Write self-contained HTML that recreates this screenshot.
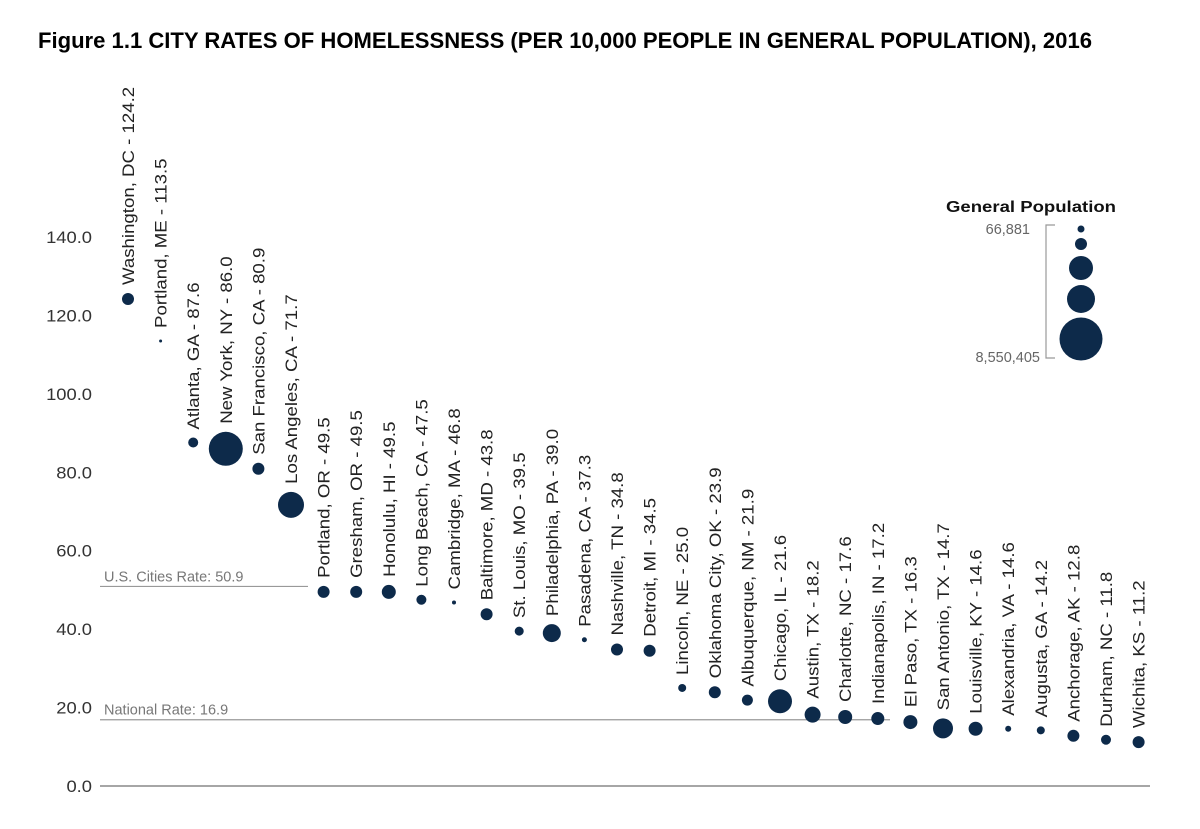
<!DOCTYPE html>
<html><head><meta charset="utf-8"><style>
body{margin:0;background:#fff;width:1200px;height:824px;overflow:hidden;font-family:"Liberation Sans",sans-serif}
</style></head><body>
<svg id="chart" width="1200" height="824" xmlns="http://www.w3.org/2000/svg">
<text x="38" y="48" font-size="22" font-weight="bold" fill="#000" textLength="1054" lengthAdjust="spacingAndGlyphs">Figure 1.1 CITY RATES OF HOMELESSNESS (PER 10,000 PEOPLE IN GENERAL POPULATION), 2016</text>
<g id="axis"></g><g id="marks"></g><g id="legend"></g>
</svg>
<script>
const cities=["Washington, DC","Portland, ME","Atlanta, GA","New York, NY","San Francisco, CA","Los Angeles, CA","Portland, OR","Gresham, OR","Honolulu, HI","Long Beach, CA","Cambridge, MA","Baltimore, MD","St. Louis, MO","Philadelphia, PA","Pasadena, CA","Nashville, TN","Detroit, MI","Lincoln, NE","Oklahoma City, OK","Albuquerque, NM","Chicago, IL","Austin, TX","Charlotte, NC","Indianapolis, IN","El Paso, TX","San Antonio, TX","Louisville, KY","Alexandria, VA","Augusta, GA","Anchorage, AK","Durham, NC","Wichita, KS"];
const rates=[124.2,113.5,87.6,86.0,80.9,71.7,49.5,49.5,49.5,47.5,46.8,43.8,39.5,39.0,37.3,34.8,34.5,25.0,23.9,21.9,21.6,18.2,17.6,17.2,16.3,14.7,14.6,14.6,14.2,12.8,11.8,11.2];
const radii=[6,1.5,5,17,6,13,6,6,7,5,2,6,4.5,9,2.5,6,6,4,6,5.5,12,8,7,6.5,7,10,7,3,4,6,5,6];
const yTicks=[0,20,40,60,80,100,120,140];
const refValues=[50.9,16.9];
const refLabels=["U.S. Cities Rate: 50.9","National Rate: 16.9"];
const refEnds=[308,890];
const NS="http://www.w3.org/2000/svg";
function y(v){return 786-v*3.921;}
function x(i){return 128+i*32.6;}
function mk(t,a,p){const e=document.createElementNS(NS,t);for(const k in a)e.setAttribute(k,a[k]);p.appendChild(e);return e;}
const ax=document.getElementById('axis'),mg=document.getElementById('marks'),lg=document.getElementById('legend');
yTicks.forEach(v=>{const t=mk('text',{x:92,y:y(v)+6,'text-anchor':'end','font-size':17,fill:'#333',transform:`translate(92,0) scale(1.08,1) translate(-92,0)`},ax);t.textContent=v.toFixed(1);

});
const base=mk('line',{x1:100,x2:1150,y1:786,y2:786,stroke:'#888','stroke-width':1.5},ax);


refValues.forEach((v,i)=>{const l=mk('line',{x1:100,x2:refEnds[i],y1:y(v),y2:y(v),stroke:'#999','stroke-width':1.2},ax);


const t=mk('text',{x:104,y:y(v)-5,'font-size':14.5,fill:'#777'},ax);t.textContent=refLabels[i];

});
cities.forEach((c,i)=>{const cx=x(i),cy=y(rates[i]);
const d=mk('circle',{cx:cx,cy:cy,r:radii[i],fill:'#0d2a4a'},mg);


const ly=cy-Math.max(radii[i],5)-8;
const t=mk('text',{x:0,y:0,'font-size':16.5,fill:'#222',transform:`translate(${cx+6},${ly}) rotate(-90) scale(1.13,1)`},mg);
t.textContent=c+" - "+rates[i].toFixed(1);

});
const lt=mk('text',{x:946,y:212,'font-size':15.5,'font-weight':'bold',fill:'#111',textLength:170,lengthAdjust:'spacingAndGlyphs'},lg);lt.textContent="General Population";


mk('path',{d:'M1055 225 H1046 V358 H1055',fill:'none',stroke:'#999','stroke-width':1.2},lg);
const l1=mk('text',{x:1030,y:234,'text-anchor':'end','font-size':14.5,fill:'#666'},lg);l1.textContent="66,881";


const l2=mk('text',{x:1040,y:362,'text-anchor':'end','font-size':14.5,fill:'#666'},lg);l2.textContent="8,550,405";


[[229,3.5],[244,6],[268,12],[299,14],[339,21.5]].forEach(p=>{const c=mk('circle',{cx:1081,cy:p[0],r:p[1],fill:'#0d2a4a'},lg);

});
</script>
</body></html>
